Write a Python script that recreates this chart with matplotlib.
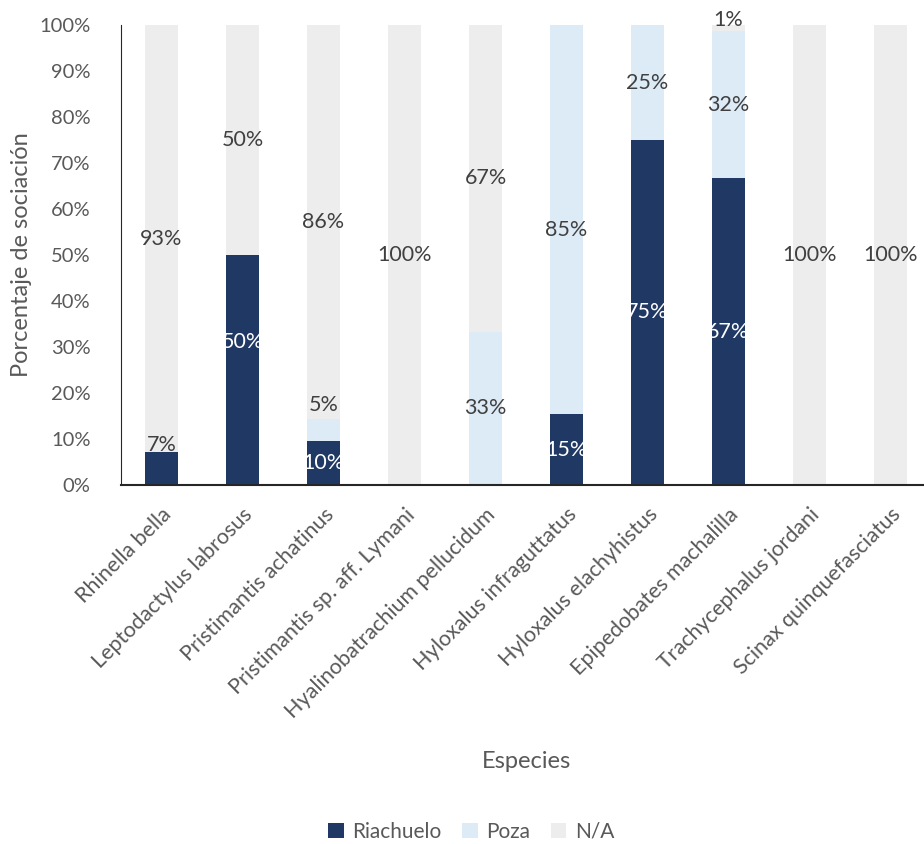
import matplotlib.pyplot as plt
import numpy as np

plt.rcParams['font.family'] = ['Lato', 'DejaVu Sans']

especies = ['Rhinella bella', 'Leptodactylus labrosus', 'Pristimantis achatinus',
            'Pristimantis sp. aff. Lymani', 'Hyalinobatrachium pellucidum',
            'Hyloxalus infraguttatus', 'Hyloxalus elachyhistus',
            'Epipedobates machalilla', 'Trachycephalus jordani',
            'Scinax quinquefasciatus']
riachuelo = [7.1, 50.0, 9.5, 0, 0, 15.4, 75.0, 66.7, 0, 0]
poza = [0, 0, 4.8, 0, 33.3, 84.6, 25.0, 31.9, 0, 0]
na = [92.9, 50.0, 85.7, 100.0, 66.7, 0, 0, 1.4, 100.0, 100.0]

# labels that were dragged away from the segment centre in the original
label_y = {(0, 0): 8.7, (1, 0): 31.0, (2, 1): 17.4, (5, 1): 55.4, (7, 2): 101.0}

series = [('Riachuelo', riachuelo, '#203864', 'white'),
          ('Poza', poza, '#DDEBF7', '#404040'),
          ('N/A', na, '#EDEDED', '#404040')]

fig = plt.figure(figsize=(9.24, 8.44), dpi=100)
ax = fig.add_axes([121 / 924, 359 / 844, 810 / 924, 460 / 844])

x = np.arange(len(especies))
bottom = np.zeros(len(especies))
for s, (name, vals, color, tcolor) in enumerate(series):
    vals = np.array(vals)
    ax.bar(x, vals, 0.41, bottom=bottom, color=color, label=name)
    for i, v in enumerate(vals):
        if v <= 0:
            continue
        y = label_y.get((i, s), bottom[i] + v / 2)
        c = tcolor
        if y > bottom[i] + v:
            c = '#404040'   # label pushed out onto the light part
        ax.text(x[i], y, f'{v:.0f}%', ha='center', va='center',
                fontsize=15.5, color=c, clip_on=False)
    bottom += vals

ax.set_xlim(-0.5, len(especies) - 0.5)
ax.set_ylim(0, 100)
ax.set_yticks(np.arange(0, 101, 10))
ax.set_yticklabels([f'{t}%' for t in range(0, 101, 10)], fontsize=14.5, color='#595959')
ax.set_xticks(x)
ax.set_xticklabels(especies, rotation=45, ha='right', rotation_mode='anchor',
                   fontsize=15.5, color='#595959')
ax.tick_params(axis='both', length=0)
ax.tick_params(axis='x', pad=14)
ax.tick_params(axis='y', pad=22)
for side in ['top', 'right']:
    ax.spines[side].set_visible(False)
ax.spines['left'].set_color('#262626')
ax.spines['bottom'].set_color('#262626')
ax.spines['bottom'].set_linewidth(1.5)

fig.text(22 / 924, 1 - 255 / 844, 'Porcentaje de sociación', rotation=90,
         ha='center', va='center', fontsize=17, color='#595959')
fig.text(527 / 924, 1 - 762 / 844, 'Especies', ha='center', va='center',
         fontsize=17, color='#595959')

fig.legend(loc='center', bbox_to_anchor=(471 / 924, 1 - 832 / 844), ncol=3,
           frameon=False, fontsize=15, handlelength=0.75, handleheight=0.75,
           columnspacing=1.0, handletextpad=0.4, labelcolor='#595959')

fig.savefig('out.png', dpi=100)
